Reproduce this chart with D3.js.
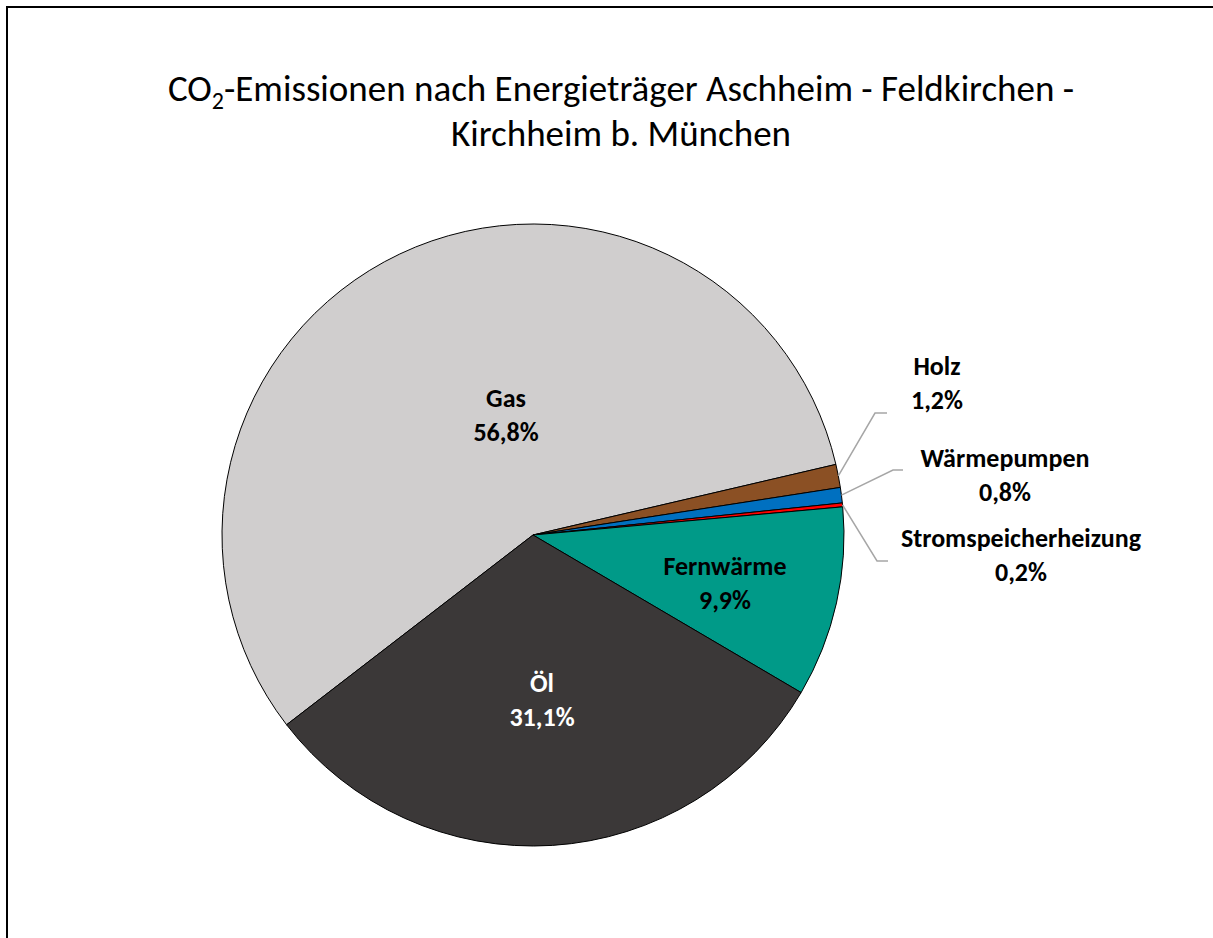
<!DOCTYPE html>
<html>
<head>
<meta charset="utf-8">
<script src="https://cdn.jsdelivr.net/npm/d3@7"></script>
<style>
  body { margin: 0; background: #FFFFFF; }
  svg { display: block; }
</style>
</head>
<body>
<svg></svg>
<script>
//--Data
const categories = ["Gas", "Holz", "Wärmepumpen", "Stromspeicherheizung", "Fernwärme", "Öl"];
const shares = [56.8, 1.2, 0.8, 0.2, 9.9, 31.1];
const labels = ["56,8%", "1,2%", "0,8%", "0,2%", "9,9%", "31,1%"];
const colors = ["#D0CECE", "#8B5024", "#0070C0", "#FF0000", "#009A88", "#3B3838"];

//--Layout
const canvas = {
  width: 1213,
  height: 938,
  cx: 533,
  cy: 535,
  r: 311,
  font: "Carlito, Calibri, Lato, sans-serif"
};
// label block centres relative to pie centre
const labelPos = {
  "Gas": [-27, -120],
  "Fernwärme": [192, 48],
  "Öl": [9, 165],
  "Holz": [404, -152],
  "Wärmepumpen": [472, -60],
  "Stromspeicherheizung": [488, 20]
};
const labelFill = { "Öl": "#FFFFFF" };
// leader lines for the small slices: elbow and end point
const leader = {
  "Holz": [[342, -122], [354, -122]],
  "Wärmepumpen": [[360, -65], [370, -65]],
  "Stromspeicherheizung": [[344, 26], [355, 26]]
};

let root = d3.select("svg")
  .attr("width", canvas.width)
  .attr("height", canvas.height);

//--Chart border (runs off right and bottom edges)
root.append("rect")
  .attr("x", 7)
  .attr("y", 7)
  .attr("width", canvas.width + 20)
  .attr("height", canvas.height + 20)
  .attr("fill", "#FFFFFF")
  .attr("stroke", "#000000")
  .attr("stroke-width", 2);

//--Title
let title = root.append("text")
  .attr("text-anchor", "middle")
  .style("font-family", canvas.font)
  .style("font-size", "37px")
  .attr("fill", "#000000");
let t1 = title.append("tspan").attr("x", 621).attr("y", 101);
t1.append("tspan").text("CO");
t1.append("tspan").text("2").style("font-size", "24px").attr("dy", 8);
t1.append("tspan").text("-Emissionen nach Energieträger Aschheim - Feldkirchen -").attr("dy", -8);
title.append("tspan").attr("x", 621).attr("y", 146).text("Kirchheim b. München");

//--Pie
const data = categories.map((c, i) => ({ name: c, value: shares[i], label: labels[i], color: colors[i] }));
const startAngle = 232.4 / 180 * Math.PI;
const pie = d3.pie()
  .sort(null)
  .value(d => d.value)
  .startAngle(startAngle)
  .endAngle(startAngle + 2 * Math.PI);
const arc = d3.arc().innerRadius(0).outerRadius(canvas.r);
const arcs = pie(data);

let g = root.append("g")
  .attr("transform", "translate(" + canvas.cx + "," + canvas.cy + ")");

g.selectAll("path.slice")
  .data(arcs)
  .enter()
  .append("path")
  .classed("slice", true)
  .attr("d", arc)
  .attr("fill", d => d.data.color)
  .attr("stroke", "#000000")
  .attr("stroke-width", 1)
  .attr("stroke-linejoin", "round");

const midAngle = d => (d.startAngle + d.endAngle) / 2;
const polar = (a, rr) => [Math.sin(a) * rr, -Math.cos(a) * rr];

//--Leader lines
arcs.filter(d => leader[d.data.name] !== undefined).forEach(d => {
  const p0 = polar(midAngle(d), canvas.r);
  g.append("polyline")
    .attr("points", [p0].concat(leader[d.data.name]).map(p => p.join(",")).join(" "))
    .attr("fill", "none")
    .attr("stroke", "#A6A6A6")
    .attr("stroke-width", 1.5);
});

//--Data labels
arcs.forEach(d => {
  const [x, y] = labelPos[d.data.name];
  let t = g.append("text")
    .attr("text-anchor", "middle")
    .style("font-family", canvas.font)
    .style("font-size", "26px")
    .style("font-weight", "bold")
    .attr("fill", labelFill[d.data.name] || "#000000");
  t.append("tspan").attr("x", x).attr("y", y - 8).text(d.data.name);
  t.append("tspan").attr("x", x).attr("y", y + 26).text(d.data.label);
});
</script>
</body>
</html>
